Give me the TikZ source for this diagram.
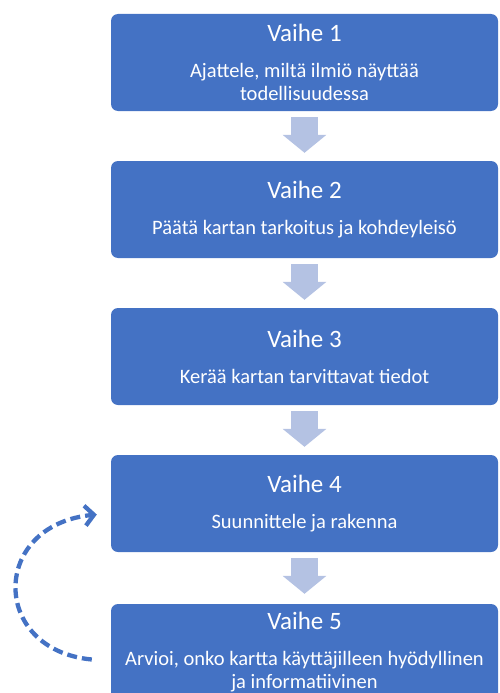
\documentclass[tikz,border=0pt]{standalone}
\usepackage{fontspec}
\setmainfont{Carlito}
\usepackage{tikz}
\usetikzlibrary{arrows.meta}

\definecolor{boxblue}{RGB}{68,114,196}
\definecolor{arrowblue}{RGB}{180,194,227}

\newcommand{\steptitle}[1]{{\fontsize{25}{28}\selectfont #1}\\[13pt]}

\begin{document}
\begin{tikzpicture}[x=1pt,y=1pt]
        % Define the styles
        \tikzstyle{stepnode}=[rectangle, rounded corners=7pt, fill=boxblue, text=white, minimum width=387pt, minimum height=97pt, inner sep=0pt, align=center, font=\fontsize{20.5}{23}\selectfont]
        \tikzstyle{blockarrow}=[draw=arrowblue, line width=27pt, -{Triangle[width=43pt,length=18pt]}]
        \tikzstyle{backarrow}=[draw=boxblue, line width=4.3pt, dash pattern=on 10pt off 5pt, -{Straight Barb[length=9pt,width=20pt,line width=4.3pt]}]

        \useasboundingbox (0,0) rectangle (499,-693);

        % Define the nodes
        \node[stepnode] (v1) at (304.5,-62.5) {\steptitle{Vaihe 1}Ajattele, miltä ilmiö näyttää\\todellisuudessa};
        \node[stepnode] (v2) at (304.5,-209.5) {\steptitle{Vaihe 2}Päätä kartan tarkoitus ja kohdeyleisö};
        \node[stepnode] (v3) at (304.5,-356.5) {\steptitle{Vaihe 3}Kerää kartan tarvittavat tiedot};
        \node[stepnode] (v4) at (304.5,-503.5) {\steptitle{Vaihe 4}Suunnittele ja rakenna};
        \node[stepnode] (v5) at (304.5,-652.5) {\steptitle{Vaihe 5}Arvioi, onko kartta käyttäjilleen hyödyllinen\\ja informatiivinen};

        % Define the arrows between the steps
        \draw[blockarrow] ([yshift=-6pt]v1.south) -- ([yshift=8pt]v2.north);
        \draw[blockarrow] ([yshift=-6pt]v2.south) -- ([yshift=8pt]v3.north);
        \draw[blockarrow] ([yshift=-6pt]v3.south) -- ([yshift=8pt]v4.north);
        \draw[blockarrow] ([yshift=-6pt]v4.south) -- ([yshift=10pt]v5.north);

        % Define the way back from step 5 to step 4
        \coordinate (back5) at ([xshift=-19pt,yshift=-7pt]v5.west);
        \coordinate (back4) at ([xshift=-14pt,yshift=-11pt]v4.west);
        \draw[backarrow] (back5) .. controls (-10,-650) and (-10,-525) .. (back4);
    \end{tikzpicture}
\end{document}
